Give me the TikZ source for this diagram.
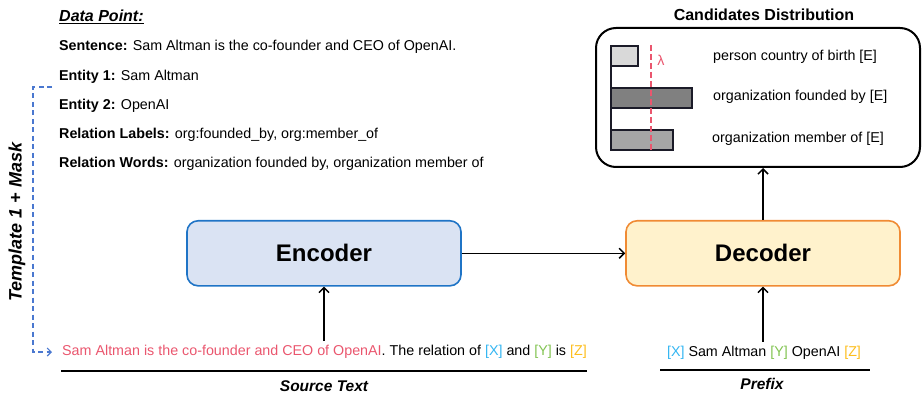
\documentclass[tikz,border=0pt]{standalone}
\usepackage{fontspec}
\setmainfont{Liberation Sans}
\usepackage{xcolor}
\usetikzlibrary{arrows.meta, positioning, calc}
\definecolor{encblue}{HTML}{1F74C6}
\definecolor{encfill}{HTML}{DAE3F3}
\definecolor{decorange}{HTML}{F08B34}
\definecolor{decfill}{HTML}{FFF2CC}
\definecolor{srcred}{HTML}{EA566E}
\definecolor{tokx}{HTML}{35B6F2}
\definecolor{toky}{HTML}{82C452}
\definecolor{tokz}{HTML}{FDBE1E}
\definecolor{tplblue}{HTML}{4A78D0}
\definecolor{barline}{HTML}{1B1B28}

\tikzset{
  txt/.style={font=\fontsize{14.3}{17}\selectfont, inner sep=0pt},
  caption/.style={font=\fontsize{15.5}{18}\selectfont\bfseries\itshape, inner sep=0pt},
  modelbox/.style={rounded corners=11pt, line width=1.6pt, minimum width=274, minimum height=65,
    font=\fontsize{24}{28}\selectfont\bfseries},
  arr/.style={line width=1.5pt, -{Straight Barb[length=5pt,width=10pt,line width=1.5pt]}},
}

\begin{document}
\begin{tikzpicture}[x=1pt, y=-1pt]
  \useasboundingbox (0,0) rectangle (922,393);

  % Data point description (TOP LEFT)
  \node[inner sep=0pt, anchor=west, font=\fontsize{16}{18}\selectfont\bfseries\itshape] (dp) at (59,17) {\underline{Data Point:}};
  \node[txt, anchor=west] (dpsent) at (59,47) {\textbf{Sentence:} Sam Altman is the co-founder and CEO of OpenAI.};
  \node[txt, anchor=west] (dpent1) at (59,77) {\textbf{Entity 1:} Sam Altman};
  \node[txt, anchor=west] (dpent2) at (59,106) {\textbf{Entity 2:} OpenAI};
  \node[txt, anchor=west] (dplab) at (59,135) {\textbf{Relation Labels:} org:founded\_by, org:member\_of};
  \node[txt, anchor=west] (dpword) at (59,164) {\textbf{Relation Words:} organization founded by, organization member of};

  % Encoder / decoder
  \node[modelbox, draw=encblue, fill=encfill] (enc) at (324,253.3) {Encoder};
  \node[modelbox, draw=decorange, fill=decfill] (dec) at (763,253.3) {Decoder};
  \draw[arr] (enc.east) -- (dec.west);

  % Source text (BOTTOM LEFT)
  \node[txt, anchor=west] (src) at (62,352) {\textcolor{srcred}{Sam Altman is the co-founder and CEO of OpenAI}. The relation of \textcolor{tokx}{[X]} and \textcolor{toky}{[Y]} is \textcolor{tokz}{[Z]}};
  \draw[line width=2pt] (61,371) -- (587,371);
  \node[caption] (srccap) at (324,386) {Source Text};
  \draw[arr, shorten <=4pt] (enc.south |- src.north) -- (enc.south);

  % Template arrow (LEFT SIDE)
  \coordinate (tpltop) at (52,87);
  \draw[tplblue, line width=1.1pt, dash pattern=on 5pt off 3.5pt,
    -{Straight Barb[length=4pt,width=8pt,line width=1.1pt]}]
    (tpltop) -- (33,87) -- (33,352) -- ([xshift=-10pt]src.west);
  \node[rotate=90, inner sep=0pt, font=\fontsize{18}{20}\selectfont\bfseries\itshape] (tpl) at (17,222) {Template 1 + Mask};

  % Prefix (BOTTOM RIGHT)
  \node[txt] (pre) at (764,352.5) {\textcolor{tokx}{[X]} Sam Altman \textcolor{toky}{[Y]} OpenAI \textcolor{tokz}{[Z]}};
  \draw[line width=2pt] (660,370) -- (870,370);
  \node[caption] (precap) at (762,384) {Prefix};
  \draw[arr, shorten <=4pt] (dec.south |- pre.north) -- (dec.south);

  % Candidates distribution (TOP RIGHT)
  \node[draw, line width=2pt, rounded corners=20pt, minimum width=324, minimum height=139] (cand) at (758,97.5) {};
  \node[inner sep=0pt, font=\fontsize{16}{18}\selectfont\bfseries] (candtitle) at (764,15) {Candidates Distribution};
  \draw[arr] (dec.north) -- (dec.north |- cand.south);

  % Bars with threshold
  \foreach \top/\right/\g in {46/638/15, 88/692/50, 130/673/35} {
    \filldraw[fill=black!\g, draw=barline, line width=1.8pt] (611,\top) rectangle (\right,\top+20);
  }
  \draw[barline, line width=1.8pt] (611,46) -- (611,150);
  \draw[srcred, line width=1.8pt, dash pattern=on 6pt off 3pt] (651,45) -- (651,150);
  \node[txt, srcred] (lambda) at (661,60) {λ};

  \node[txt, anchor=west] (cand1) at (713,57) {person country of birth [E]};
  \node[txt, anchor=west] (cand2) at (713,97) {organization founded by [E]};
  \node[txt, anchor=west] (cand3) at (712,139) {organization member of [E]};
\end{tikzpicture}
\end{document}
